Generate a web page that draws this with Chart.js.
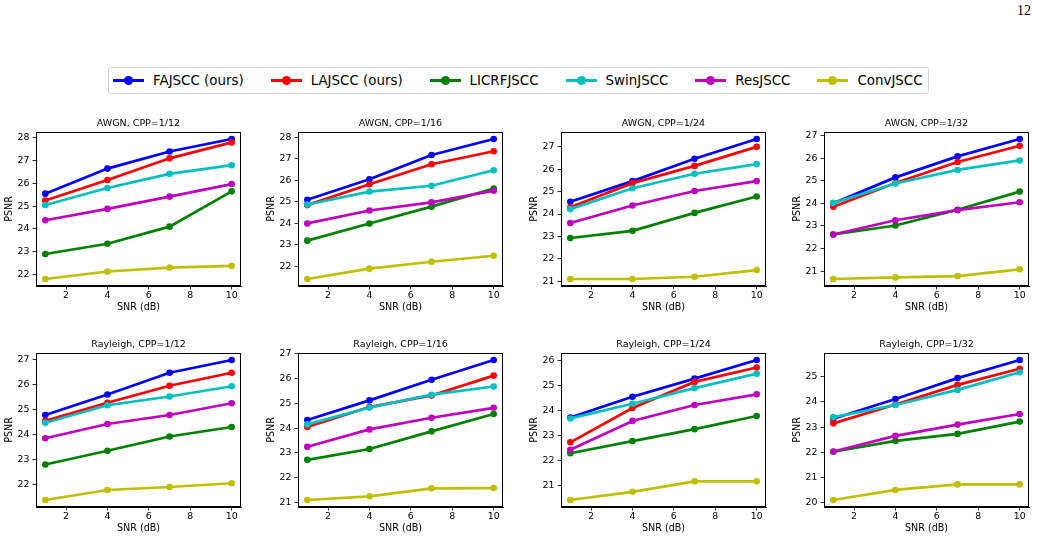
<!DOCTYPE html>
<html><head><meta charset="utf-8">
<script src="https://cdn.jsdelivr.net/npm/chart.js@4.4.1/dist/chart.umd.min.js"></script>
<style>
html,body{margin:0;padding:0;background:#fff;overflow:hidden;width:1038px;height:540px;}
#page{position:relative;width:1038px;height:540px;overflow:hidden;font-family:'DejaVu Sans',sans-serif;}
canvas{position:absolute;}
#pnum{position:absolute;right:7px;top:3px;font-family:'Liberation Serif','Times New Roman',serif;font-size:14px;color:#000;}
#legend{position:absolute;left:108px;top:67px;height:25px;border:1px solid #d4d4d4;border-radius:3px;display:flex;align-items:center;padding:0 5px 0 4px;box-sizing:content-box;}
.li{display:flex;align-items:center;margin-right:27px;}
.li:last-child{margin-right:0;}
.ls{position:relative;width:31px;height:3px;margin-right:9px;}
.ls span{position:absolute;left:11px;top:-3px;width:9px;height:9px;border-radius:50%;}
.lt{font-size:13.4px;color:#000;white-space:nowrap;line-height:16px;}
</style></head><body>
<div id="page">
<div id="pnum">12</div>
<div id="legend"></div>
</div>
<script>
// ---------- data ----------
const snr = [1, 4, 7, 10];
const xTicks = [2, 4, 6, 8, 10];
const methods = ['FAJSCC (ours)', 'LAJSCC (ours)', 'LICRFJSCC', 'SwinJSCC', 'ResJSCC', 'ConvJSCC'];
const panelTitles = ['AWGN, CPP=1/12', 'AWGN, CPP=1/16', 'AWGN, CPP=1/24', 'AWGN, CPP=1/32',
                     'Rayleigh, CPP=1/12', 'Rayleigh, CPP=1/16', 'Rayleigh, CPP=1/24', 'Rayleigh, CPP=1/32'];

// rows: FAJSCC, LAJSCC, LICRFJSCC, SwinJSCC, ResJSCC, ConvJSCC
const awgn_12 = [
  [25.55, 26.65, 27.40, 27.95],
  [25.25, 26.15, 27.10, 27.80],
  [22.90, 23.35, 24.10, 25.65],
  [25.05, 25.80, 26.42, 26.80],
  [24.38, 24.88, 25.42, 25.97],
  [21.80, 22.13, 22.30, 22.38]
];
const awgn_16 = [
  [25.10, 26.05, 27.18, 27.92],
  [24.85, 25.82, 26.75, 27.35],
  [23.20, 24.00, 24.78, 25.62],
  [24.88, 25.48, 25.75, 26.47],
  [24.00, 24.60, 24.98, 25.52],
  [21.42, 21.90, 22.22, 22.50]
];
const awgn_24 = [
  [24.55, 25.47, 26.47, 27.35],
  [24.30, 25.38, 26.15, 27.00],
  [22.93, 23.25, 24.05, 24.78],
  [24.22, 25.15, 25.80, 26.23],
  [23.60, 24.38, 25.03, 25.47],
  [21.10, 21.10, 21.20, 21.50]
];
const awgn_32 = [
  [24.00, 25.15, 26.08, 26.85],
  [23.85, 24.90, 25.83, 26.55],
  [22.62, 23.02, 23.72, 24.52],
  [24.02, 24.88, 25.48, 25.90],
  [22.62, 23.25, 23.70, 24.05],
  [20.65, 20.72, 20.78, 21.08]
];
const rayleigh_12 = [
  [24.78, 25.60, 26.47, 26.98],
  [24.55, 25.27, 25.95, 26.47],
  [22.80, 23.35, 23.92, 24.30],
  [24.47, 25.17, 25.52, 25.93],
  [23.85, 24.42, 24.78, 25.25],
  [21.38, 21.78, 21.90, 22.05]
];
const rayleigh_16 = [
  [24.33, 25.12, 25.95, 26.75],
  [24.05, 24.85, 25.32, 26.12],
  [22.72, 23.16, 23.87, 24.57],
  [24.15, 24.83, 25.35, 25.68],
  [23.25, 23.95, 24.42, 24.82],
  [21.10, 21.25, 21.57, 21.58]
];
const rayleigh_24 = [
  [23.72, 24.55, 25.28, 26.03],
  [22.72, 24.10, 25.15, 25.73],
  [22.28, 22.77, 23.25, 23.78],
  [23.68, 24.27, 24.90, 25.48],
  [22.42, 23.58, 24.22, 24.65],
  [20.40, 20.73, 21.15, 21.15]
];
const rayleigh_32 = [
  [23.33, 24.12, 24.95, 25.67],
  [23.15, 23.90, 24.68, 25.32],
  [22.02, 22.45, 22.73, 23.22],
  [23.40, 23.88, 24.48, 25.18],
  [22.03, 22.65, 23.10, 23.52],
  [20.10, 20.50, 20.72, 20.72]
];
const panels = [awgn_12, awgn_16, awgn_24, awgn_32, rayleigh_12, rayleigh_16, rayleigh_24, rayleigh_32];

// ---------- styles ----------
const colors = ['#0000ff', '#ff0000', '#008000', '#00bfbf', '#bf00bf', '#bfbf00'];
const axLefts = [36, 298, 561, 824];
const axTops = [132, 353];
const AXW = 205, AXH = 154;
const PADL = 36, PADR = 36, PADT = 22, PADB = 30;
const FS_TICK = 9.4, FS_LABEL = 9.6, FS_TITLE = 9.5;

Chart.defaults.font.family = "'DejaVu Sans', sans-serif";
Chart.defaults.color = '#000';

// legend
const legend = document.getElementById('legend');
methods.forEach((m, i) => {
  const it = document.createElement('div'); it.className = 'li';
  const ls = document.createElement('div'); ls.className = 'ls'; ls.style.background = colors[i];
  const dot = document.createElement('span'); dot.style.background = colors[i]; ls.appendChild(dot);
  const lt = document.createElement('div'); lt.className = 'lt'; lt.textContent = m;
  it.appendChild(ls); it.appendChild(lt); legend.appendChild(it);
});

const framePlugin = {
  id: 'frame',
  afterDatasetsDraw(chart) {
    const {ctx, chartArea: a} = chart;
    ctx.save();
    ctx.strokeStyle = '#000';
    ctx.lineWidth = 1;
    ctx.strokeRect(Math.round(a.left) + 0.5, Math.round(a.top) + 0.5, Math.round(a.right - a.left) - 1, Math.round(a.bottom - a.top) - 1);
    ctx.restore();
  }
};

const page = document.getElementById('page');
panels.forEach((data, p) => {
  const row = Math.floor(p / 4), col = p % 4;
  const cv = document.createElement('canvas');
  const W = AXW + PADL + PADR, H = AXH + PADT + PADB;
  cv.width = W; cv.height = H;
  cv.style.width = W + 'px'; cv.style.height = H + 'px';
  cv.style.left = (axLefts[col] - PADL) + 'px';
  cv.style.top = (axTops[row] - PADT) + 'px';
  page.appendChild(cv);

  let lo = Infinity, hi = -Infinity;
  data.forEach(s => s.forEach(v => { lo = Math.min(lo, v); hi = Math.max(hi, v); }));
  const m = (hi - lo) * 0.05;
  const ymin = lo - m, ymax = hi + m;

  new Chart(cv, {
    type: 'line',
    data: {
      datasets: data.map((s, i) => ({
        label: methods[i],
        data: s.map((v, k) => ({x: snr[k], y: v})),
        borderColor: colors[i],
        backgroundColor: colors[i],
        pointBackgroundColor: colors[i],
        pointBorderColor: colors[i],
        pointRadius: 3.3,
        pointBorderWidth: 0,
        borderWidth: 2.7,
        tension: 0,
        fill: false,
        clip: false,
        order: 5 - i,
        yAxisID: 'y'
      }))
    },
    options: {
      responsive: false,
      animation: false,
      devicePixelRatio: 1,
      layout: {padding: 0},
      plugins: {
        legend: {display: false},
        tooltip: {enabled: false},
        title: {
          display: true,
          text: panelTitles[p],
          font: {size: FS_TITLE, weight: 'normal'},
          color: '#000',
          padding: {top: PADT - FS_TITLE * 1.2 - 3, bottom: 3}
        }
      },
      scales: {
        x: {
          type: 'linear',
          min: 0.55, max: 10.45,
          afterBuildTicks: s => { s.ticks = xTicks.map(v => ({value: v})); },
          afterFit: s => { s.height = PADB; },
          grid: {display: true, drawOnChartArea: false, drawTicks: true, tickLength: 3.5, color: '#000', lineWidth: 0.8},
          border: {display: true, color: '#000', width: 1},
          ticks: {font: {size: FS_TICK}, color: '#000', padding: 0, maxRotation: 0, callback: v => String(v)},
          title: {display: true, text: 'SNR (dB)', font: {size: FS_LABEL}, color: '#000', padding: {top: 0, bottom: 2.5}}
        },
        y: {
          type: 'linear',
          position: 'left',
          min: ymin, max: ymax,
          afterBuildTicks: s => {
            const t = [];
            for (let v = Math.ceil(ymin); v <= Math.floor(ymax); v++) t.push({value: v});
            s.ticks = t;
          },
          afterFit: s => { s.width = PADL; },
          grid: {display: true, drawOnChartArea: false, drawTicks: true, tickLength: 3.5, color: '#000', lineWidth: 0.8},
          border: {display: true, color: '#000', width: 1},
          ticks: {font: {size: FS_TICK}, color: '#000', padding: 3, callback: v => String(Math.round(v))},
          title: {display: true, text: 'PSNR', font: {size: FS_LABEL}, color: '#000', padding: {top: 4.2, bottom: 0}}
        },
        yR: {
          type: 'linear',
          position: 'right',
          display: true,
          min: ymin, max: ymax,
          afterFit: s => { s.width = PADR; },
          grid: {display: false},
          border: {display: false},
          ticks: {display: false},
          title: {display: false}
        }
      }
    },
    plugins: [framePlugin]
  });
});
</script>
</body></html>
